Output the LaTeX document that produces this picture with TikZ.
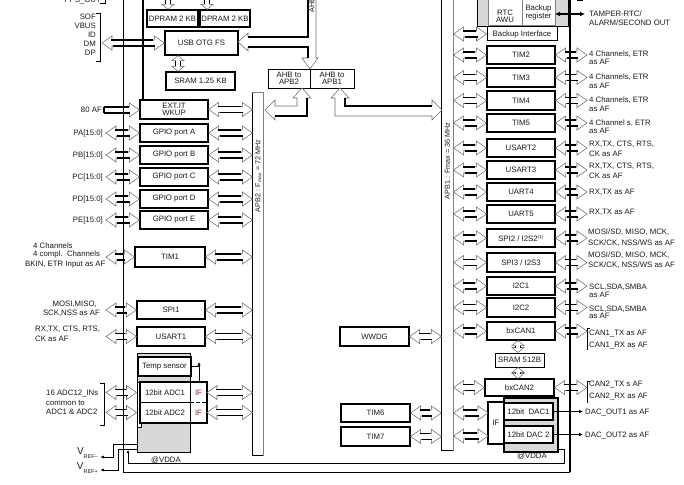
\documentclass[tikz,border=0pt]{standalone}
\usepackage{fontspec}
\setmainfont{Liberation Sans}
\usetikzlibrary{calc,arrows.meta}
\definecolor{txt}{RGB}{25,25,35}
\definecolor{agrey}{RGB}{110,110,110}
\definecolor{lgrey}{RGB}{216,216,216}
\definecolor{ifred}{RGB}{150,40,40}
\newcommand\fs{\fontsize{7.8}{9}\selectfont}
\tikzset{
 blk/.style={draw=black,line width=1.2pt,fill=white,inner sep=0pt,font=\fs,text=txt,align=center},
 lbl/.style={font=\fs,text=txt,inner sep=0pt,align=left},
 aout/.style={draw=agrey,line width=0.55pt,line join=miter},
 ain/.style={draw=black,line width=1.5pt},
 thinln/.style={draw=black,line width=0.8pt},
 ptr/.style={-{Latex[length=4pt,width=3.5pt]},line width=0.8pt},
}
\newcommand\mybox[7][]{\node[blk,minimum width={((#5)-(#3))*1pt},minimum height={((#6)-(#4))*1pt},#1] (#2) at ({((#3)+(#5))/2},{((#4)+(#6))/2}) {#7};}
\newcommand\dharr[2]{%
\draw[aout] let \p1=#1,\p2=#2 in (\x1,\y1) -- (\x1+10pt,\y1+7pt) -- (\x1+10pt,\y1+3pt) -- (\x2-10pt,\y1+3pt) -- (\x2-10pt,\y1+7pt) -- (\x2,\y1) -- (\x2-10pt,\y1-7pt) -- (\x2-10pt,\y1-3pt) -- (\x1+10pt,\y1-3pt) -- (\x1+10pt,\y1-7pt) -- cycle;
\draw[ain] let \p1=#1,\p2=#2 in (\x1+9pt,\y1+3pt) -- (\x2-11pt,\y1+3pt) (\x1+11pt,\y1-3pt) -- (\x2-9pt,\y1-3pt);}
\newcommand\sharr[2]{%
\draw[aout] let \p1=#1,\p2=#2 in (\x1,\y1+3pt) -- (\x2-10pt,\y1+3pt) -- (\x2-10pt,\y1+7pt) -- (\x2,\y1) -- (\x2-10pt,\y1-7pt) -- (\x2-10pt,\y1-3pt) -- (\x1,\y1-3pt) -- cycle;
\draw[ain] let \p1=#1,\p2=#2 in (\x1,\y1+3pt) -- (\x2-10pt,\y1+3pt) (\x1,\y1-3pt) -- (\x2-9pt,\y1-3pt) (\x1,\y1+3pt) -- (\x1,\y1-3pt);}
\newcommand\dvarr[2]{%
\draw[aout] let \p1=#1,\p2=#2 in (\x1,\y1) -- (\x1+6pt,\y1-5pt) -- (\x1+2.5pt,\y1-5pt) -- (\x1+2.5pt,\y2+5pt) -- (\x1+6pt,\y2+5pt) -- (\x1,\y2) -- (\x1-6pt,\y2+5pt) -- (\x1-2.5pt,\y2+5pt) -- (\x1-2.5pt,\y1-5pt) -- (\x1-6pt,\y1-5pt) -- cycle;
\draw[ain] let \p1=#1,\p2=#2 in (\x1+2.5pt,\y1-5pt) -- (\x1+2.5pt,\y2+5pt) (\x1-2.5pt,\y1-5pt) -- (\x1-2.5pt,\y2+5pt);}
\begin{document}
\begin{tikzpicture}[x=1pt,y=-1pt]
\useasboundingbox (0,0) rectangle (684,484);
\begin{scope}
\clip (0,0) rectangle (684,484);
\fill[white] (0,0) rectangle (684,484);

% grey areas
\mybox[fill=lgrey,line width=1pt]{rtcg}{477}{-6}{568}{27}{}
\mybox[fill=lgrey,line width=1pt]{adcg}{137}{353}{190}{452}{}
\mybox[fill=lgrey,line width=1.3pt]{dacg}{504}{398}{558}{452}{}

% backbone lines
\coordinate (ltop) at (123,-6);
\coordinate (lbot) at (123,472);
\coordinate (rtop) at (570,-6);
\coordinate (rbot) at (570,472);
\draw[line width=0.9pt] (ltop) -- (lbot) -- (rbot);
\draw[line width=2pt] (rtop) -- (rbot);
\coordinate (ahbl) at (143,-6);

% APB buses
\mybox[draw=none]{apb2}{253}{93}{263}{455}{}
\draw[line width=1.6pt] (apb2.north west) -- (apb2.south west) -- (apb2.south east);
\draw[line width=0.6pt,gray] (apb2.north west) -- (apb2.north east) -- (apb2.south east);
\mybox[draw=none]{apb1}{442}{-6}{453}{450}{}
\draw[line width=1.6pt] (apb1.north west) -- (apb1.south west) -- (apb1.south east);
\draw[line width=0.6pt,gray] (apb1.north east) -- (apb1.south east);
\node[lbl,rotate=90,font=\fontsize{7.2}{8}\selectfont] (apb2t) at (258.5,176) {APB2 : F\textsubscript{max} = 72 MHz};
\node[lbl,rotate=90,font=\fontsize{7.2}{8}\selectfont] (apb1t) at (447.5,161) {APB1 : Fmax = 36 MHz};

% left top blocks
\mybox{dpram1}{147}{10}{198}{27}{DPRAM 2 KB}
\mybox{dpram2}{200}{10}{250}{27}{DPRAM 2 KB}
\mybox{usb}{165}{31}{238}{55}{USB OTG FS}
\mybox{sram}{166}{72}{235}{90}{SRAM 1.25 KB}
\mybox{extit}{140}{100}{208}{119}{EXT.IT\\[-1.5pt]WKUP}
\draw[line width=1.6pt] (ahbl) -- (ahbl |- extit.north);
\mybox{gpioa}{140}{124}{208}{142}{GPIO port A}
\mybox{gpiob}{140}{146}{208}{164}{GPIO port B}
\mybox{gpioc}{140}{168}{208}{186}{GPIO port C}
\mybox{gpiod}{140}{190}{208}{208}{GPIO port D}
\mybox{gpioe}{140}{211}{208}{229}{GPIO port E}
\mybox{tim1}{135}{247}{205}{267}{TIM1}
\mybox{spi1}{137}{301}{205}{319}{SPI1}
\mybox{usart1}{137}{327}{205}{346}{USART1}
\mybox{temp}{138}{357}{191}{376}{Temp sensor}
\draw[line width=0.6pt,fill=white] (137,382) rectangle (141,427);
\mybox{adc}{140}{382}{207}{423}{}
\draw[line width=0.6pt] (190,382) -- (190,423);
\draw[line width=1pt] (140,402.5) -- (190,402.5);
\draw[line width=1pt,dash pattern=on 4pt off 2pt] (190,402.5) -- (207,402.5);
\node[lbl] (adc1t) at (165,392.5) {12bit ADC1};
\node[lbl] (adc2t) at (165,412.5) {12bit ADC2};
\node[lbl,text=ifred] (if1) at (198.5,392.5) {IF};
\node[lbl,text=ifred] (if2) at (198.5,412.5) {IF};
\node[lbl] (vdda1) at (166,460) {@VDDA};
\draw[line width=0.8pt] (temp.east) -- (199,366.5);
\draw[-{Latex[length=3.5pt,width=3.5pt]},line width=0.8pt] (199,382) -- (199,362);

% AHB bridges
\mybox[line width=0.9pt]{ahb2}{268}{69}{310}{88}{AHB to\\[-1.5pt]APB2}
\mybox[line width=0.9pt]{ahb1}{310}{69}{354}{88}{AHB to\\[-1.5pt]APB1}
\node[lbl,rotate=90,anchor=west,font=\fontsize{7.2}{8}\selectfont] (ahbt) at (312,13) {AHB};
\draw[aout] (308,-6) -- (308,37) -- (248,37) -- (248,33) -- (238,42) -- (248,51) -- (248,47) -- (308,47) -- (308,58) -- (302,58) -- (310,69) -- (318,58) -- (316,58) -- (316,-6);
\draw[ain] (308,-6) -- (308,37) -- (248,37) (248,47) -- (308,47) -- (308,58);
\draw[aout] (302,88) -- (311,98) -- (307,98) -- (307,116) -- (275,116) -- (275,120) -- (265,110) -- (275,100) -- (275,106) -- (297,106) -- (297,98) -- (293,98) -- cycle;
\draw[ain] (307,98) -- (307,116) -- (275,116);
\draw[aout] (340,88) -- (349,98) -- (345,98) -- (345,106) -- (432,106) -- (432,100) -- (442,110) -- (432,120) -- (432,116) -- (335,116) -- (335,98) -- (331,98) -- cycle;
\draw[ain] (345,98) -- (345,106) -- (432,106);

% middle
\mybox{wwdg}{340}{327}{409}{346}{WWDG}
\mybox{tim6}{341}{404}{410}{422}{TIM6}
\mybox{tim7}{341}{427}{410}{446}{TIM7}

% right blocks
\draw[line width=0.5pt,gray,fill=white] (488,-10) rectangle (522,25);
\draw[line width=0.5pt,gray,fill=white] (522,-10) rectangle (555,25);
\node[lbl,align=center] (rtct) at (505,16.5) {RTC\\[-1.5pt]AWU};
\node[lbl,align=center] (bkreg) at (538.5,12.5) {Backup\\[-1.5pt]register};
\coordinate (tamp) at (585,14);
\draw[{Latex[length=5pt,width=5pt]}-{Latex[length=5pt,width=5pt]},line width=1.2pt] (555,14) -- (tamp);
\fill (577,-3) rectangle (583,1.5);
\mybox[line width=1pt]{bkif}{487}{27}{557}{41}{Backup Interface}
\mybox{tim2}{487}{46}{555}{64}{TIM2}
\mybox{tim3}{487}{68}{555}{87}{TIM3}
\mybox{tim4}{487}{91}{555}{110}{TIM4}
\mybox{tim5}{487}{114}{555}{132}{TIM5}
\mybox{usart2}{487}{139}{555}{157}{USART2}
\mybox{usart3}{487}{161}{555}{179}{USART3}
\mybox{uart4}{487}{183}{555}{201}{UART4}
\mybox{uart5}{487}{205}{555}{223}{UART5}
\mybox{spi2}{487}{229}{555}{247}{SPI2 / I2S2\textsuperscript{\fontsize{4.5}{5}\selectfont(1)}}
\mybox{spi3}{487}{253}{555}{272}{SPI3 / I2S3}
\mybox{i2c1}{487}{277}{555}{295}{I2C1}
\mybox{i2c2}{487}{298}{555}{317}{I2C2}
\mybox{bxcan1}{487}{322}{555}{340}{bxCAN1}
\mybox[line width=1pt]{sram512}{495}{353}{544}{367}{SRAM 512B}
\mybox{bxcan2}{485}{379}{554}{396}{bxCAN2}
\mybox{dacif}{488}{402}{504}{444}{IF}
\mybox{dac1}{504}{403}{553}{420}{12bit\ \ DAC1}
\mybox{dac2}{504}{426}{553}{443}{12bit DAC 2}
\node[lbl] (vdda2) at (532,456) {@VDDA};

% supply lines
\draw[thinln,-{Latex[length=3pt,width=3pt]}] (558,449) -- (564,449) -- (564,463) -- (128,463) -- (128,450);
\draw[thinln,-{Latex[length=4pt,width=3pt]}] (137,444) -- (113,444) -- (113,457) -- (100,457);
\draw[thinln,-{Latex[length=4pt,width=3pt]}] (137,449) -- (118,449) -- (118,470) -- (100,470);
\node[lbl,anchor=base east] (vrefm) at (98,454) {{\fontsize{10}{10}\selectfont V}\raisebox{-4.5pt}{\fontsize{5.5}{6}\selectfont REF\textendash}};
\node[lbl,anchor=base east] (vrefp) at (98,469) {{\fontsize{10}{10}\selectfont V}\raisebox{-4pt}{\fontsize{5.5}{6}\selectfont REF+}};

% DAC outputs
\coordinate (dacpin) at (583,0);
\draw[ptr] (dac1.east) -- (dacpin |- dac1.east);
\draw[ptr,line width=1.3pt] (dac2.east) -- (dacpin |- dac2.east);

% left labels
\node[lbl,anchor=base east] (pps) at (101,2.5) {PPS\_OUT};
\draw[thinln] (100,3.5) -- (105,3.5) -- (105,-8);
\node[lbl,anchor=east] (sof) at (96,17) {SOF};
\node[lbl,anchor=east] (vbus) at (96,26) {VBUS};
\node[lbl,anchor=east] (idl) at (96,35) {ID};
\node[lbl,anchor=east] (dml) at (96,44) {DM};
\node[lbl,anchor=east] (dpl) at (96,53) {DP};
\draw[thinln] (96,13) -- (100,13) -- (100,61) -- (96,61);
\node[lbl,anchor=east] (af80) at (102,110) {80 AF};
\node[lbl,anchor=east] (pa) at (103,133) {PA[15:0]};
\node[lbl,anchor=east] (pb) at (103,155) {PB[15:0]};
\node[lbl,anchor=east] (pc) at (103,177) {PC[15:0]};
\node[lbl,anchor=east] (pd) at (103,199) {PD[15:0]};
\node[lbl,anchor=east] (pe) at (103,220) {PE[15:0]};
\node[lbl,anchor=west] (t1a) at (33,246) {4 Channels};
\node[lbl,anchor=west] (t1b) at (33,254.5) {4 compl.\ \ Channels};
\node[lbl,anchor=west] (t1c) at (25,265) {BKIN, ETR Input as AF};
\node[lbl,anchor=east] (s1a) at (97,304) {MOSI,MISO,};
\node[lbl,anchor=east] (s1b) at (100,313) {SCK,NSS as AF};
\node[lbl,anchor=west] (u1a) at (35,329) {RX,TX, CTS, RTS,};
\node[lbl,anchor=west] (u1b) at (35,339) {CK as AF};
\node[lbl,anchor=west] (adca) at (46,394) {16 ADC12\_INs};
\node[lbl,anchor=west] (adcb) at (46,403) {common to};
\node[lbl,anchor=west] (adcc) at (46,412) {ADC1 \& ADC2};
\draw[thinln] (100,383) -- (104,383) -- (104,425) -- (100,425);

% right labels
\node[lbl,anchor=west] (tp1) at (589,14) {TAMPER-RTC/};
\node[lbl,anchor=west] (tp2) at (589,23) {ALARM/SECOND OUT};
\node[lbl,anchor=west] (t2a) at (589,54) {4 Channels, ETR};
\node[lbl,anchor=west] (t2b) at (589,62) {as AF};
\node[lbl,anchor=west] (t3a) at (589,77) {4 Channels, ETR};
\node[lbl,anchor=west] (t3b) at (589,86) {as AF};
\node[lbl,anchor=west] (t4a) at (589,100) {4 Channels, ETR};
\node[lbl,anchor=west] (t4b) at (589,109) {as AF};
\node[lbl,anchor=west] (t5a) at (589,123) {4 Channel s, ETR};
\node[lbl,anchor=west] (t5b) at (589,131) {as AF};
\node[lbl,anchor=west] (u2a) at (589,144) {RX,TX, CTS, RTS,};
\node[lbl,anchor=west] (u2b) at (589,154) {CK as AF};
\node[lbl,anchor=west] (u3a) at (589,166) {RX,TX, CTS, RTS,};
\node[lbl,anchor=west] (u3b) at (589,176) {CK as AF};
\node[lbl,anchor=west] (u4l) at (589,192) {RX,TX as AF};
\node[lbl,anchor=west] (u5l) at (589,212) {RX,TX as AF};
\node[lbl,anchor=west] (s2a) at (588,232) {MOSI/SD, MISO, MCK,};
\node[lbl,anchor=west] (s2b) at (588,243) {SCK/CK, NSS/WS as AF};
\node[lbl,anchor=west] (s3a) at (588,255) {MOSI/SD, MISO, MCK,};
\node[lbl,anchor=west] (s3b) at (588,265) {SCK/CK, NSS/WS as AF};
\node[lbl,anchor=west] (i1a) at (589,287) {SCL,SDA,SMBA};
\node[lbl,anchor=west] (i1b) at (589,295) {as AF};
\node[lbl,anchor=west] (i2a) at (589,309) {SCL,SDA,SMBA};
\node[lbl,anchor=west] (i2b) at (589,316) {as AF};
\node[lbl,anchor=west] (c1a) at (589,334) {CAN1\_TX as AF};
\node[lbl,anchor=west] (c1b) at (589,346) {CAN1\_RX as AF};
\draw[thinln] (590,328) -- (587,328) -- (587,350);
\node[lbl,anchor=west] (c2a) at (589,385) {CAN2\_TX s AF};
\node[lbl,anchor=west] (c2b) at (589,397) {CAN2\_RX as AF};
\draw[thinln] (590,381) -- (587,381) -- (587,403);
\node[lbl,anchor=west] (d1l) at (585,413) {DAC\_OUT1 as AF};
\node[lbl,anchor=west] (d2l) at (585,436) {DAC\_OUT2 as AF};

% fat arrows, left side
\coordinate (usbpin) at (102,43);
\coordinate (lpin) at (106,0);
\coordinate (af80pt) at (104,110);
\coordinate (d1) at (168,-14);
\coordinate (d2) at (207,-14);
\coordinate (us) at (178,0);
\dvarr{(d1)}{(d1 |- dpram1.north)}
\dvarr{(d2)}{(d2 |- dpram2.north)}
\dvarr{(us |- usb.south)}{(us |- sram.north)}
\dharr{(usbpin)}{(usb.west)}
\sharr{(af80pt)}{(extit.west)}
\dharr{(extit.east)}{(apb2.west)}
\dharr{(lpin |- gpioa.west)}{(gpioa.west)}
\dharr{(lpin |- gpiob.west)}{(gpiob.west)}
\dharr{(lpin |- gpioc.west)}{(gpioc.west)}
\dharr{(lpin |- gpiod.west)}{(gpiod.west)}
\dharr{(lpin |- gpioe.west)}{(gpioe.west)}
\dharr{(gpioa.east)}{(apb2.west)}
\dharr{(gpiob.east)}{(apb2.west)}
\dharr{(gpioc.east)}{(apb2.west)}
\dharr{(gpiod.east)}{(apb2.west)}
\dharr{(gpioe.east)}{(apb2.west)}
\dharr{(lpin |- tim1.west)}{(tim1.west)}
\dharr{(lpin |- spi1.west)}{(spi1.west)}
\dharr{(lpin |- usart1.west)}{(usart1.west)}
\dharr{(tim1.east)}{(apb2.west)}
\dharr{(spi1.east)}{(apb2.west)}
\dharr{(usart1.east)}{(apb2.west)}
\coordinate (adcr1) at (207,392.5);
\coordinate (adcr2) at (207,412.5);
\dharr{(lpin |- adcr1)}{(adcg.west)}
\dharr{(lpin |- adcr2)}{(adcg.west)}
\dharr{(adcr1)}{(apb2.west)}
\dharr{(adcr2)}{(apb2.west)}

% middle
\dharr{(wwdg.east)}{(apb1.west)}
\dharr{(tim6.east)}{(apb1.west)}
\dharr{(tim7.east)}{(apb1.west)}

% right side
\coordinate (rpin) at (587,0);
\coordinate (cs) at (518,0);
\dvarr{(cs |- bxcan1.south)}{(cs |- sram512.north)}
\dvarr{(cs |- sram512.south)}{(cs |- bxcan2.north)}
\foreach \b in {bkif,tim2,tim3,tim4,tim5,usart2,usart3,uart4,uart5,spi2,spi3,i2c1,i2c2,bxcan1,bxcan2}{
  \dharr{(apb1.east |- \b.west)}{(\b.west)}
}
\foreach \b in {tim2,tim3,tim4,tim5,usart2,usart3,uart4,uart5,spi2,spi3,i2c1,i2c2,bxcan1,bxcan2}{
  \dharr{(\b.east)}{(rpin)}
}
\coordinate (dacr1) at (488,413);
\coordinate (dacr2) at (488,436);
\dharr{(apb1.east |- dacr1)}{(dacr1)}
\dharr{(apb1.east |- dacr2)}{(dacr2)}
\end{scope}
\end{tikzpicture}
\end{document}
